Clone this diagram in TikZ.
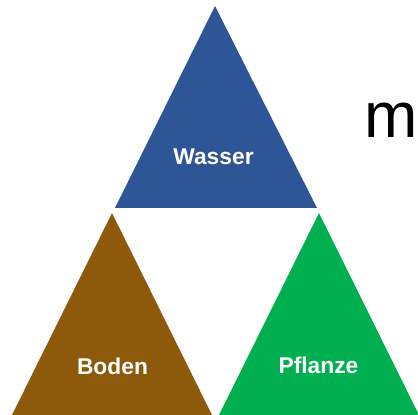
\documentclass[tikz,border=0pt]{standalone}
\usepackage{fontspec}
\setmainfont{Liberation Sans}
\definecolor{wasserblue}{RGB}{46,86,151}
\definecolor{bodenbrown}{RGB}{140,90,10}
\definecolor{pflanzegreen}{RGB}{0,176,80}
\tikzset{
  label text/.style={text=white,font=\fontsize{22.8}{27}\selectfont\bfseries,inner sep=0pt,anchor=base}
}
\begin{document}
\begin{tikzpicture}[x=1pt,y=1pt]
\useasboundingbox (0,0) rectangle (418,415);

%TRIANGLES
% top
\fill[wasserblue] (115,207) -- (215,409) -- (317,207) -- cycle;
% bottom left
\fill[bodenbrown] (12,0) -- (112,202) -- (212,0) -- cycle;
% bottom right
\fill[pflanzegreen] (219,0) -- (319,202) -- (419,0) -- cycle;

%LABELS
\node[label text] (wasser) at (213.5,250) {Wasser};
\node[label text] (boden) at (112.5,40) {Boden};
\node[label text] (pflanze) at (318.5,41) {Pflanze};

%LETTER
\node[anchor=base west,inner sep=0pt,font=\fontsize{64}{70}\selectfont] (m) at (364,277) {m};

\end{tikzpicture}
\end{document}
